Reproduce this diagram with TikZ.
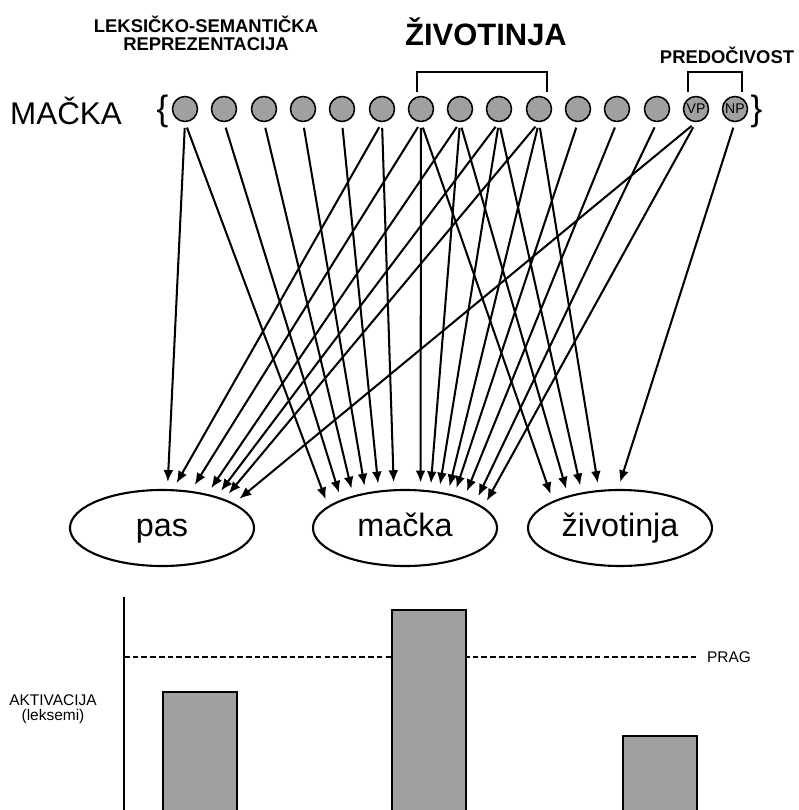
\documentclass[tikz,border=0pt]{standalone}
\usepackage{fontspec}
\setmainfont{Liberation Sans}
\usepackage{xcolor}
\usetikzlibrary{shapes.geometric, arrows.meta}
\definecolor{featgray}{RGB}{160,160,160}

\tikzset{
  feature/.style={draw, circle, fill=featgray, line width=1.1pt, minimum size=0.625cm, inner sep=0pt, font=\fontsize{10}{10}\selectfont},
  lexeme/.style={draw, ellipse, line width=1.5pt, minimum width=4.6cm, minimum height=1.9cm, inner sep=0pt, text height=16.8pt, text depth=4.8pt, font=\fontsize{23}{23}\selectfont},
  link/.style={line width=1.45pt, -{Latex[length=8.5pt, width=7pt]}, shorten <=4pt, shorten >=5pt},
  bracket/.style={line width=1.3pt},
  header/.style={inner sep=0pt, align=center, font=\bfseries\fontsize{13.1}{12.5}\selectfont},
  bar/.style={draw, fill=featgray, line width=1.4pt},
}

\begin{document}
\begin{tikzpicture}[x=0.025cm, y=-0.025cm]
    \useasboundingbox (0,0) rectangle (799,810);

    % Headings
    \node[header, anchor=base] (lex) at (206,50) {LEKSIČKO-SEMANTIČKA\\REPREZENTACIJA};
    \node[inner sep=0pt, anchor=base, font=\bfseries\fontsize{22}{22}\selectfont] (zivhead) at (486,45.5) {ŽIVOTINJA};
    \node[header, anchor=base] (predhead) at (727,63) {PREDOČIVOST};
    \node[inner sep=0pt, anchor=base, font=\fontsize{22.3}{22.3}\selectfont] (word) at (66,124) {MAČKA};

    % Feature units
    \node[inner sep=0pt, anchor=base, font=\fontsize{25}{25}\selectfont] (lbrace) at (162.5,120) {\{};
    \node[feature] (c1) at (185,109) {};
    \node[feature] (c2) at (224,109) {};
    \node[feature] (c3) at (264,109) {};
    \node[feature] (c4) at (303,109) {};
    \node[feature] (c5) at (342,109) {};
    \node[feature] (c6) at (382,109) {};
    \node[feature] (c7) at (421,109) {};
    \node[feature] (c8) at (460,109) {};
    \node[feature] (c9) at (499,109) {};
    \node[feature] (c10) at (539,109) {};
    \node[feature] (c11) at (578,109) {};
    \node[feature] (c12) at (617,109) {};
    \node[feature] (c13) at (657,109) {};
    \node[feature] (vp) at (696,109) {VP};
    \node[feature] (np) at (735,109) {NP};
    \node[inner sep=0pt, anchor=base, font=\fontsize{25}{25}\selectfont] (rbrace) at (756.5,120) {\}};

    % Brackets
    \draw[bracket] (417,92) |- (547,72) -- (547,92);
    \draw[bracket] (688,92) |- (742,72) -- (742,92);

    % Lexemes
    \node[lexeme] (pas) at (162,528) {pas};
    \node[lexeme] (mac) at (405,528) {mačka};
    \node[lexeme] (ziv) at (620,528) {životinja};

    % Links to pas
    \draw[link] (c1.south) -- (pas.82);
    \draw[link] (c6.south) -- (pas.74);
    \draw[link] (c7.south) -- (pas.52);
    \draw[link] (c8.south) -- (pas.37);
    \draw[link] (c9.south) -- (pas.30);
    \draw[link] (c10.south) -- (pas.25);
    \draw[link] (vp.south) -- (pas.19);

    % Links to macka
    \draw[link] (c1.south) -- (mac.164);
    \draw[link] (c2.south) -- (mac.156);
    \draw[link] (c3.south) -- (mac.148);
    \draw[link] (c4.south) -- (mac.138);
    \draw[link] (c5.south) -- (mac.125);
    \draw[link] (c6.south) -- (mac.106);
    \draw[link] (c7.south) -- (mac.68);
    \draw[link] (c8.south) -- (mac.56);
    \draw[link] (c9.south) -- (mac.47);
    \draw[link] (c10.south) -- (mac.39);
    \draw[link] (c11.south) -- (mac.34);
    \draw[link] (c12.south) -- (mac.27);
    \draw[link] (c13.south) -- (mac.20);
    \draw[link] (vp.south) -- (mac.15);

    % Links to zivotinja
    \draw[link] (c7.south) -- (ziv.158);
    \draw[link] (c8.south) -- (ziv.148);
    \draw[link] (c9.south) -- (ziv.137);
    \draw[link] (c10.south) -- (ziv.119);
    \draw[link] (np.south) -- (ziv.93);

    % Activation chart
    \coordinate (axtop) at (124,597);
    \coordinate (axbot) at (124,812);
    \coordinate (axprag) at (124,657);
    \node[inner ysep=0pt, inner xsep=5.5pt, anchor=west, font=\fontsize{11}{11}\selectfont] (prag) at (699,657) {PRAG};
    \draw[line width=1.2pt, dash pattern=on 4pt off 2.2pt] (axprag) -- (prag.west);
    \draw[line width=1.4pt] (axtop) -- (axbot);
    \draw[bar] (163,692) rectangle (237,816);
    \draw[bar] (392,610) rectangle (466,816);
    \draw[bar] (623,736) rectangle (697,816);
    \node[inner sep=0pt, anchor=base, align=center, font=\fontsize{11}{10.6}\selectfont] (akt) at (53,720) {AKTIVACIJA\\(leksemi)};
\end{tikzpicture}
\end{document}
